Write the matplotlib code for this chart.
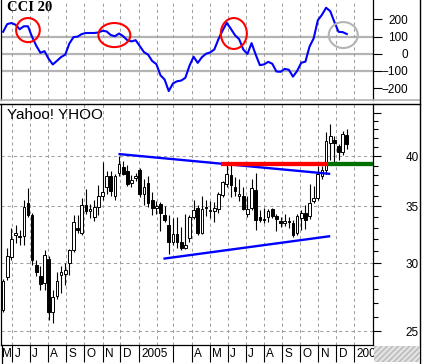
import numpy as np
import pandas as pd
import matplotlib
matplotlib.use("Agg")
import matplotlib.pyplot as plt
import matplotlib.dates as mdates
from matplotlib.patches import Ellipse, Rectangle
from matplotlib.lines import Line2D
from matplotlib.ticker import FixedLocator, FixedFormatter, NullFormatter

plt.rcParams['font.family'] = ['Liberation Sans', 'DejaVu Sans']

W, H, DPI = 423, 364, 100
PX_PER_DAY = 0.5915

# weekly candles, Yahoo! (YHOO)
week_start = '2004-05-17'
opens = [26.5, 28.9, 30.5, 32.4, 32.3, 32.3, 35.3, 34.2, 29.9, 29.0,
         28.5, 30.4, 26.3, 27.5, 29.1, 29.2, 30.0, 31.1, 33.0, 32.6,
         35.1, 34.5, 34.0, 34.9, 36.0, 36.8, 37.9, 36.0, 38.3, 38.9,
         38.5, 37.2, 37.7, 38.6, 36.2, 37.2, 35.6, 34.8, 35.2, 34.2,
         33.3, 31.8, 32.5, 31.8, 31.3, 32.1, 34.0, 34.8, 32.6, 34.9,
         34.5, 34.5, 34.7, 36.1, 37.1, 38.0, 36.8, 36.0, 36.0, 34.3,
         34.8, 36.5, 34.0, 33.8, 34.0, 34.7, 34.1, 33.6, 33.4, 33.6,
         33.4, 32.6, 33.9, 34.4, 34.1, 35.5, 35.8, 37.9, 38.6, 41.5,
         41.8, 41.1, 40.5, 42.4]
highs = [28.8, 31.3, 33.0, 33.3, 32.8, 35.6, 36.7, 34.4, 30.3, 29.8,
         31.1, 30.6, 27.9, 29.3, 29.8, 30.0, 31.2, 34.2, 34.2, 35.8,
         36.6, 35.2, 35.6, 37.0, 39.4, 38.5, 38.5, 38.1, 40.0, 39.5,
         39.1, 38.0, 38.3, 38.8, 37.6, 37.9, 36.3, 35.5, 35.4, 35.0,
         34.2, 33.9, 34.0, 33.1, 34.3, 34.2, 35.6, 35.1, 36.0, 35.6,
         35.5, 35.4, 36.3, 37.4, 39.1, 39.1, 37.8, 37.6, 36.8, 36.0,
         37.6, 38.3, 34.6, 34.8, 34.7, 34.8, 34.3, 34.0, 34.3, 34.0,
         33.7, 34.3, 34.6, 35.1, 37.1, 36.9, 39.0, 39.0, 42.7, 43.6,
         42.3, 41.3, 42.8, 43.1]
lows = [26.3, 28.7, 30.3, 31.7, 31.5, 31.5, 34.0, 29.9, 29.0, 27.9,
        27.9, 25.8, 25.6, 27.3, 27.7, 28.3, 29.1, 30.9, 32.6, 32.4,
        34.3, 33.9, 33.6, 34.2, 35.6, 36.2, 36.0, 35.6, 37.9, 38.0,
        36.9, 36.8, 37.4, 35.9, 35.1, 34.9, 34.2, 34.3, 32.7, 33.5,
        30.8, 31.5, 31.3, 31.1, 31.2, 31.8, 33.8, 32.4, 32.5, 34.1,
        33.9, 33.5, 34.4, 35.9, 36.8, 35.9, 36.0, 35.5, 34.6, 34.0,
        34.6, 32.85, 33.5, 33.4, 33.5, 33.9, 32.7, 33.1, 33.2, 33.0,
        32.2, 32.4, 32.8, 32.9, 33.8, 35.3, 35.6, 37.6, 38.1, 39.6,
        39.4, 39.6, 40.2, 40.8]
closes = [28.6, 30.6, 32.0, 32.6, 32.2, 34.9, 34.2, 30.3, 29.3, 28.4,
          30.7, 26.3, 27.4, 28.6, 29.3, 29.5, 31.1, 33.5, 32.8, 35.1,
          34.5, 34.7, 34.9, 36.0, 36.3, 37.9, 36.4, 37.9, 39.2, 38.2,
          37.1, 37.5, 37.9, 36.2, 36.8, 35.3, 34.8, 35.0, 34.4, 33.75,
          31.8, 32.5, 31.8, 31.3, 31.5, 34.0, 34.6, 32.6, 34.7, 34.8,
          34.6, 34.8, 36.2, 37.3, 38.1, 37.0, 36.4, 36.2, 34.7, 34.7,
          36.7, 33.7, 33.7, 33.7, 34.5, 34.1, 33.8, 33.4, 33.6, 33.5,
          32.4, 34.1, 34.4, 33.7, 35.3, 35.8, 38.1, 38.6, 41.7, 42.3,
          41.5, 40.5, 42.5, 41.3]
cci20 = [128, 173, 179, 169, 143, 160, 160, 98, 47, 6,
         15, -30, -62, -41, -19, -5, 60, 97, 100, 115,
         121, 121, 121, 124, 134, 130, 109, 102, 118, 102,
         79, 72, 79, 45, 10, -5, -42, -60, -125, -150,
         -217, -173, -160, -156, -140, -70, -17, -53, -20, 0,
         8, 25, 85, 135, 180, 145, 108, 85, 25, -1,
         62, -5, -66, -62, -47, -58, -103, -105, -88, -93,
         -133, -100, -52, -46, 42, 90, 195, 227, 268, 248,
         185, 128, 126, 115]

# annotation lines (date, price)
upper_dates = ['2004-11-30', '2005-11-19']
upper_prices = [40.24, 38.17]
lower_dates = ['2005-02-14', '2005-11-19']
lower_prices = [30.40, 32.27]
resist_dates = ['2005-05-21', '2005-11-18']
resist_level = 39.2

# circles on CCI: centre date, centre value, width (days), height (cci)
circle_dates = ['2004-06-28', '2004-11-21', '2005-06-11']
circle_vals = [138, 109, 118]
circle_w = [40, 54, 44]
circle_h = [140, 140, 180]
grey_circle = ('2005-12-13', 109, 49, 151)

month_starts = pd.date_range('2004-06-01', '2006-01-01', freq='MS')
month_labels = ['J', 'J', 'A', 'S', 'O', 'N', 'D', '2005', '', '', 'A', 'M',
                'J', 'J', 'A', 'S', 'O', 'N', 'D', '2006']

weeks = mdates.date2num(pd.date_range(week_start, periods=len(opens), freq='7D'))
opens = np.array(opens)
closes = np.array(closes)
highs = np.array(highs)
lows = np.array(lows)


def rect(x0, y0, x1, y1):
    return [x0 / W, 1 - y1 / H, (x1 - x0) / W, (y1 - y0) / H]


fig = plt.figure(figsize=(W / DPI, H / DPI), dpi=DPI)
ax1 = fig.add_axes(rect(1, 0, 373, 100))
ax2 = fig.add_axes(rect(1, 104, 373, 345), sharex=ax1)

x_left = mdates.date2num(pd.Timestamp('2004-06-01')) - 11 / PX_PER_DAY
x_right = mdates.date2num(pd.Timestamp('2006-01-01')) + 18.5 / PX_PER_DAY
grid_kw = dict(color='#a0a0a0', lw=0.75, ls=(0, (3, 3)))

# ---- CCI panel
for lvl in (-100, 0, 100):
    ax1.axhline(lvl, color='#b4b4b4', lw=1.6, zorder=1)
ax1.plot(weeks, cci20, color='#0000ff', lw=1.5, zorder=3)
for d, v, w, h in zip(circle_dates, circle_vals, circle_w, circle_h):
    ax1.add_patch(Ellipse((mdates.date2num(pd.Timestamp(d)), v), w, h,
                          fill=False, ec='#ff0000', lw=1.5, zorder=4))
gd, gv, gw, gh = grey_circle
ax1.add_patch(Ellipse((mdates.date2num(pd.Timestamp(gd)), gv), gw, gh,
                      fill=False, ec='#b4b4b4', lw=1.5, zorder=4))
ax1.set_ylim(-269, 313)
ax1.yaxis.tick_right()
ax1.set_yticks([-200, -100, 0, 100, 200])
ax1.tick_params(axis='y', direction='out', length=6.5, width=0.8, pad=19, labelsize=8.5)
for lab in ax1.get_yticklabels():
    lab.set_ha('right')
ax1.spines['top'].set_visible(False)
ax1.spines['bottom'].set_visible(False)
ax1.text(0.016, 0.99, 'CCI 20', transform=ax1.transAxes, va='top', ha='left',
         fontsize=10.5, fontweight='bold', family='Liberation Serif')

# ---- price panel
ax2.set_yscale('log')
for lvl in (25, 30, 35, 40):
    ax2.axhline(lvl, zorder=0, **grid_kw)
ax2.vlines(weeks, lows, highs, color='black', lw=0.8, zorder=2)
up = closes >= opens
body = np.maximum(np.abs(closes - opens), 0.08)
bottom = np.minimum(opens, closes)
ax2.bar(weeks[up], body[up], bottom=bottom[up], width=4.5, color='white',
        edgecolor='black', lw=0.7, zorder=3)
ax2.bar(weeks[~up], body[~up], bottom=bottom[~up], width=4.5, color='black',
        edgecolor='black', lw=0.7, zorder=3)

ax2.plot(mdates.date2num(pd.to_datetime(upper_dates)), upper_prices, color='#0000ff', lw=1.7, zorder=4)
ax2.plot(mdates.date2num(pd.to_datetime(lower_dates)), lower_prices, color='#0000ff', lw=1.7, zorder=4)
rd = mdates.date2num(pd.to_datetime(resist_dates))
ax2.plot(rd, [resist_level] * 2, color='#ff0000', lw=3.1, solid_capstyle='butt', zorder=5)
ax2.plot([rd[1], x_right], [resist_level] * 2, color='#007000', lw=3.1,
         solid_capstyle='butt', zorder=5)

ax2.set_ylim(24.1, 46.04)
ax2.yaxis.tick_right()
ax2.yaxis.set_major_locator(FixedLocator([25, 30, 35, 40, 45]))
ax2.yaxis.set_major_formatter(FixedFormatter(['25', '30', '35', '40', '']))
ax2.yaxis.set_minor_locator(FixedLocator([v for v in range(24, 47) if v % 5]))
ax2.yaxis.set_minor_formatter(NullFormatter())
ax2.tick_params(axis='y', which='major', direction='out', length=6, width=0.8, pad=27, labelsize=8.5)
ax2.tick_params(axis='y', which='minor', direction='out', length=3.5, width=0.8)
for lab in ax2.get_yticklabels():
    lab.set_ha('right')
ax2.spines['top'].set_visible(False)
ax2.text(0.016, 0.985, 'Yahoo! YHOO', transform=ax2.transAxes, va='top', ha='left', fontsize=11)

# ---- shared x: month gridlines, labels in the bottom row
ms = mdates.date2num(month_starts)
ax2.set_xlim(x_left, x_right)
ax2.xaxis.set_major_locator(FixedLocator(ms))
ax2.xaxis.set_major_formatter(NullFormatter())
lab_pos = [x_left + 1] + list(ms + 4)
ax2.xaxis.set_minor_locator(FixedLocator(lab_pos))
ax2.xaxis.set_minor_formatter(FixedFormatter(['M'] + month_labels))
ax2.tick_params(axis='x', which='major', length=0)
ax2.tick_params(axis='x', which='minor', length=0, pad=2, labelsize=8.5)
for lab in ax2.get_xticklabels(minor=True):
    lab.set_ha('left')
ax1.tick_params(axis='x', which='both', length=0, labelbottom=False)
ax1.grid(axis='x', which='major', **grid_kw)
ax2.grid(axis='x', which='major', **grid_kw)
ax1.grid(axis='y', visible=False)

sep = [m for m, lab in zip(ms, month_labels) if not (lab == '' and m == ms[8])]
ax2.vlines(sep, -17 / 241, 0, transform=ax2.get_xaxis_transform(), color='black',
           lw=0.8, clip_on=False)

for a in (ax1, ax2):
    for s in a.spines.values():
        s.set_linewidth(0.9)

# frame pieces and the hatched corner
fig.add_artist(Line2D([0, 420 / W], [1 - 100 / H] * 2, color='#b4b4b4', lw=1.2))
fig.add_artist(Line2D([0, 420 / W], [1 - 104 / H] * 2, color='black', lw=1.0))
fig.add_artist(Line2D([420 / W] * 2, [1 - 363 / H, 1], color='black', lw=1.0))
fig.add_artist(Line2D([1.5 / W] * 2, [1 - 363 / H, 1 - 345 / H], color='black', lw=0.9))
fig.add_artist(Rectangle((374 / W, 1 - 362 / H), 46 / W, 16 / H, transform=fig.transFigure,
                         facecolor='#e2e2e2', edgecolor='#b8b8b8', hatch='//////', lw=0, zorder=5))

fig.savefig('out.png', dpi=DPI)
